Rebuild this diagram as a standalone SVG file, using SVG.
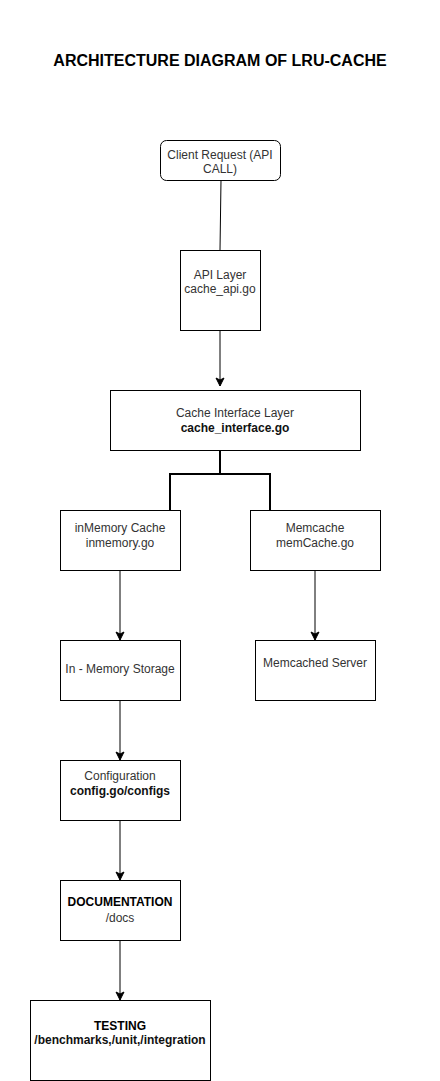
<svg xmlns="http://www.w3.org/2000/svg" width="440" height="1081" viewBox="0 0 440 1081">
<style>
.box{fill:#fff;stroke:#000;stroke-width:1}
.t{font-family:"Liberation Sans",Arial,sans-serif;font-size:12px;fill:#333;text-anchor:middle}
.d{fill:#111;font-weight:bold}
.b{font-weight:bold;fill:#000}
.c{stroke:#000;stroke-width:1;fill:none}
.thick{stroke:#000;stroke-width:2;fill:none}
</style>
<defs>
<marker id="arr" viewBox="0 0 10 10" refX="9" refY="5" markerWidth="10" markerHeight="10" markerUnits="userSpaceOnUse" orient="auto">
<path d="M1,1 L9,5 L1,9 L3,5 Z" fill="#000" stroke="#000"/>
</marker>
</defs>
<rect width="440" height="1081" fill="#fff"/>
<text x="220" y="66" font-family="Liberation Sans,Arial,sans-serif" font-size="16" font-weight="bold" text-anchor="middle" fill="#000">ARCHITECTURE DIAGRAM OF LRU-CACHE</text>
<g id="connectors">
<path class="c" d="M221,180 L220,250"/>
<path class="c" d="M220,330 L220,386" marker-end="url(#arr)"/>
<path class="thick" d="M220,450 L220,474 M170,510 L170,474 L270,474 L270,510"/>
<path class="c" d="M120,570 L120,640" marker-end="url(#arr)"/>
<path class="c" d="M315,570 L315,640" marker-end="url(#arr)"/>
<path class="c" d="M120,700 L120,760" marker-end="url(#arr)"/>
<path class="c" d="M120,820 L120,880" marker-end="url(#arr)"/>
<path class="c" d="M120,940 L120,1000" marker-end="url(#arr)"/>
</g>
<g id="client">
<rect class="box" x="160.5" y="140.5" width="120" height="40" rx="6"/>
<text class="t" x="220" y="159">Client Request (API</text>
<text class="t" x="220" y="173">CALL)</text>
</g>
<g id="api">
<rect class="box" x="180.5" y="250.5" width="80" height="80"/>
<text class="t" x="220" y="279">API Layer</text>
<text class="t" x="220" y="293">cache_api.go</text>
</g>
<g id="iface">
<rect class="box" x="110.5" y="390.5" width="250" height="60"/>
<text class="t" x="235" y="417">Cache Interface Layer</text>
<text class="t d" x="235" y="432">cache_interface.go</text>
</g>
<g id="inmem">
<rect class="box" x="60.5" y="510.5" width="120" height="60"/>
<text class="t" x="120" y="532">inMemory Cache</text>
<text class="t" x="120" y="547">inmemory.go</text>
</g>
<g id="memcache">
<rect class="box" x="250.5" y="510.5" width="130" height="60"/>
<text class="t" x="315" y="532">Memcache</text>
<text class="t" x="315" y="547">memCache.go</text>
</g>
<g id="storage">
<rect class="box" x="60.5" y="640.5" width="120" height="60"/>
<text class="t" x="120" y="673">In - Memory Storage</text>
</g>
<g id="server">
<rect class="box" x="255.5" y="640.5" width="120" height="60"/>
<text class="t" x="315" y="667">Memcached Server</text>
</g>
<g id="config">
<rect class="box" x="60.5" y="760.5" width="120" height="60"/>
<text class="t" x="120" y="780">Configuration</text>
<text class="t d" x="120" y="795">config.go/configs</text>
</g>
<g id="docs">
<rect class="box" x="60.5" y="880.5" width="120" height="60"/>
<text class="t b" x="120" y="906">DOCUMENTATION</text>
<text class="t" x="120" y="922">/docs</text>
</g>
<g id="testing">
<rect class="box" x="30.5" y="1000.5" width="180" height="80"/>
<text class="t b" x="120" y="1030">TESTING</text>
<text class="t d" x="120" y="1044">/benchmarks,/unit,/integration</text>
</g>
</svg>
